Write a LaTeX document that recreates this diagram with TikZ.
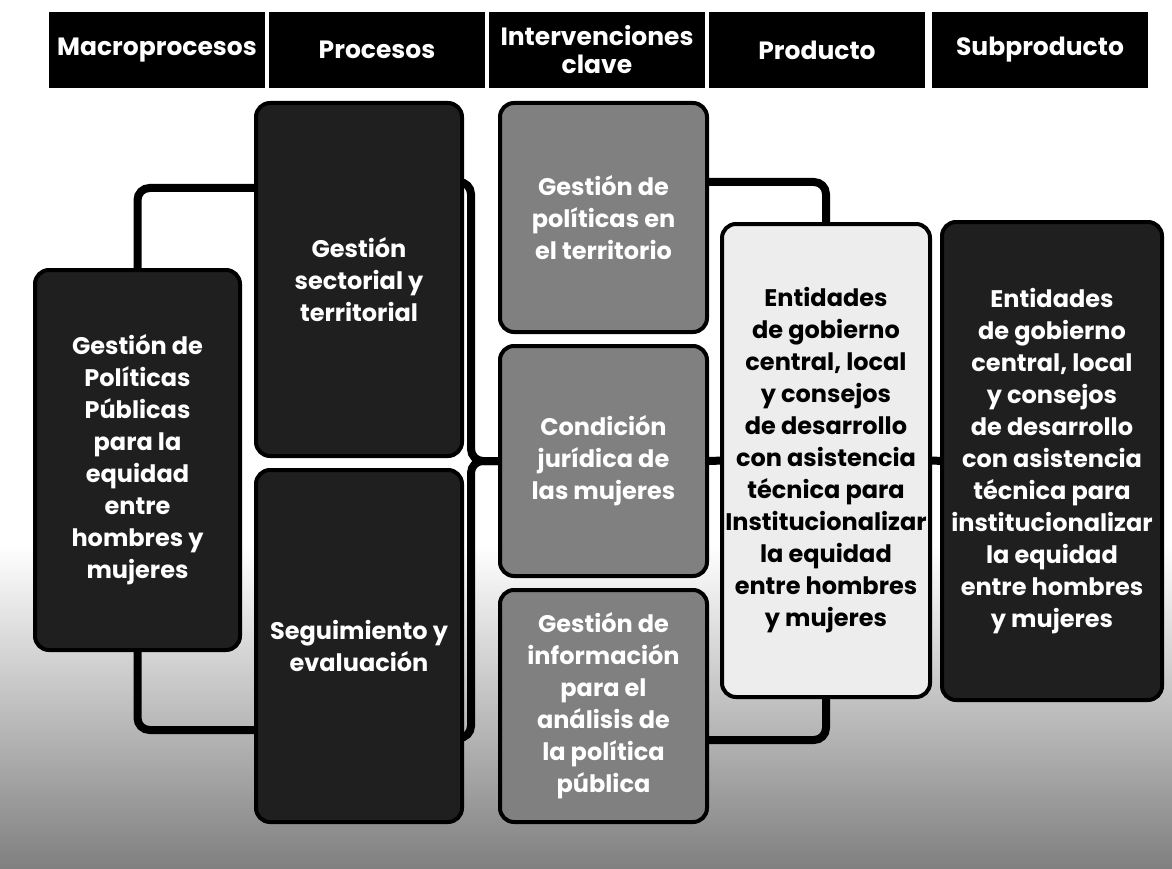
\documentclass[tikz,border=0pt]{standalone}
\usepackage{fontspec}
\setmainfont{Poppins}
\usetikzlibrary{backgrounds}
\pgfdeclarelayer{back}
\pgfsetlayers{back,background,main}
\begin{document}
\begin{tikzpicture}[x=1pt, y=-1pt, font=\bfseries\fontsize{24}{32}\selectfont,
        hdr/.style={fill=black, text=white, minimum width=216pt, minimum height=76pt, inner sep=0pt, align=center, font=\bfseries\fontsize{25}{28}\selectfont},
        darkbox/.style={draw=black, line width=4pt, fill=black!88, text=white, rounded corners=14pt, align=center, inner sep=0pt},
        graybox/.style={darkbox, fill=black!50},
        lightbox/.style={darkbox, fill=black!7, text=black},
        link/.style={line width=8pt, rounded corners=12pt}]
    \useasboundingbox (0,0) rectangle (1172,869);
    \begin{pgfonlayer}{back}
        \fill[white] (0,0) rectangle (1172,869);
        \shade[top color=white, bottom color=black!50] (0,545) rectangle (1172,869);
    \end{pgfonlayer}
    % headers
    \node[hdr] (hmacro) at (157, 50) {Macroprocesos};
    \node[hdr] (hproc) at (377, 50) {Procesos};
    \node[hdr] (hinterv) at (597, 50) {Intervenciones\\clave};
    \node[hdr] (hprod) at (817, 50) {Producto};
    \node[hdr] (hsub) at (1040, 50) {Subproducto};
    % macroproceso
    \node[darkbox, minimum width=205pt, minimum height=380pt] (macro) at (137.5, 460) {Gestión de\\Políticas\\Públicas\\para la\\equidad\\entre\\hombres y\\mujeres};
    % procesos
    \node[darkbox, minimum width=206pt, minimum height=353pt] (sectorial) at (359, 279.5) {Gestión\\sectorial y\\territorial};
    \node[darkbox, minimum width=206pt, minimum height=352pt] (seguimiento) at (359, 646) {Seguimiento y\\evaluación};
    % intervenciones clave
    \node[graybox, minimum width=207pt, minimum height=229pt] (politicas) at (603.5, 217.5) {Gestión de\\políticas en\\el territorio};
    \node[graybox, minimum width=207pt, minimum height=230pt] (condicion) at (603.5, 461) {Condición\\jurídica de\\las mujeres};
    \node[graybox, minimum width=207pt, minimum height=232pt] (informacion) at (603.5, 706) {Gestión de\\información\\para el\\análisis de\\la política\\pública};
    % producto y subproducto
    \node[lightbox, minimum width=208pt, minimum height=473pt] (producto) at (826, 460.5) {Entidades\\de gobierno\\central, local\\y consejos\\de desarrollo\\con asistencia\\técnica para\\Institucionalizar\\la equidad\\entre hombres\\y mujeres};
    \node[darkbox, minimum width=220pt, minimum height=478pt] (subproducto) at (1052, 461) {Entidades\\de gobierno\\central, local\\y consejos\\de desarrollo\\con asistencia\\técnica para\\institucionalizar\\la equidad\\entre hombres\\y mujeres};
    % connectors
    \begin{pgfonlayer}{background}
        \draw[link] (macro.center) |- (sectorial.center |- 0,188);
        \draw[link] (macro.center) |- (seguimiento.center |- 0,730);
        \draw[link] (sectorial.center |- 0,182) -| ([xshift=-27pt]condicion.west) -- (condicion.center);
        \draw[link] (seguimiento.center |- 0,738) -| ([xshift=-27pt]condicion.west) -- (condicion.center);
        \draw[link] (politicas.center |- 0,182) -| (producto.center);
        \draw[link] (informacion.center |- 0,740) -| (producto.center);
        \draw[link] (condicion) -- (producto);
        \draw[link] (producto) -- (subproducto);
    \end{pgfonlayer}
\end{tikzpicture}
\end{document}
